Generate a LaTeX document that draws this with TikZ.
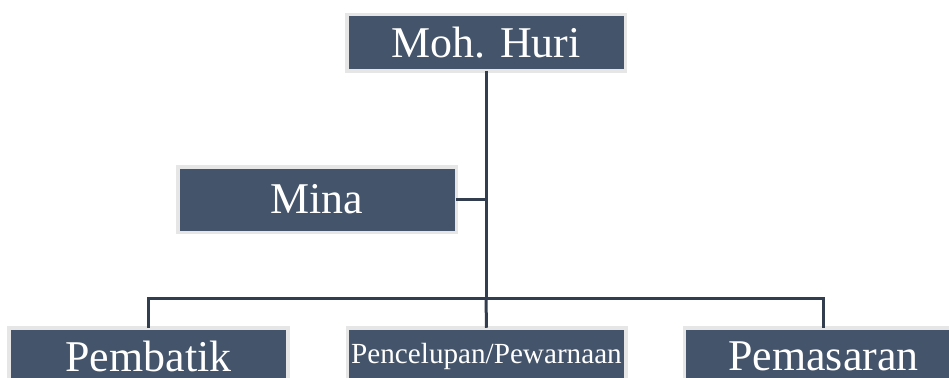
\documentclass[tikz,border=0pt]{standalone}
\usepackage{fontspec}
\setmainfont{Liberation Serif}
\usepackage[svgnames]{xcolor}
\definecolor{boxblue}{HTML}{44546A}
\definecolor{boxrim}{HTML}{E6E6E6}
\definecolor{linkblue}{HTML}{323E4F}

\begin{document}
\begin{tikzpicture}[font=\fontsize{12.5}{15}\selectfont,
	staff/.style={fill=boxblue, draw=boxrim, line width=.035cm, text=white,
		minimum width=2.785cm, minimum height=.565cm, inner sep=0, outer sep=0},
	link/.style={draw=linkblue, line width=.03cm}]
	\useasboundingbox (0,0) rectangle (9.49,-3.78);
	% pimpinan
	\node[staff] (owner) at (4.86,-.425) {Moh. Huri};
	\node[staff, minimum height=.655cm] (mina) at (3.17,-1.995) {Mina};
	% bagian
	\node[staff] (pembatik) at (1.485,-3.56) {Pembatik};
	\node[staff, font=\fontsize{8.3}{10}\selectfont] (pewarna) at (4.865,-3.56) {Pencelupan/Pewarnaan};
	\node[staff] (pemasaran) at (8.235,-3.56) {Pemasaran};
	\coordinate (bar) at (4.86,-2.98);
	\draw[link] (owner.south) -- (bar);
	\draw[link] (mina.east) -- (mina.east -| owner.south);
	\draw[link] (pembatik.north) |- (bar) -| (pemasaran.north);
	\draw[link] (bar) -- (pewarna.north);
\end{tikzpicture}
\end{document}
